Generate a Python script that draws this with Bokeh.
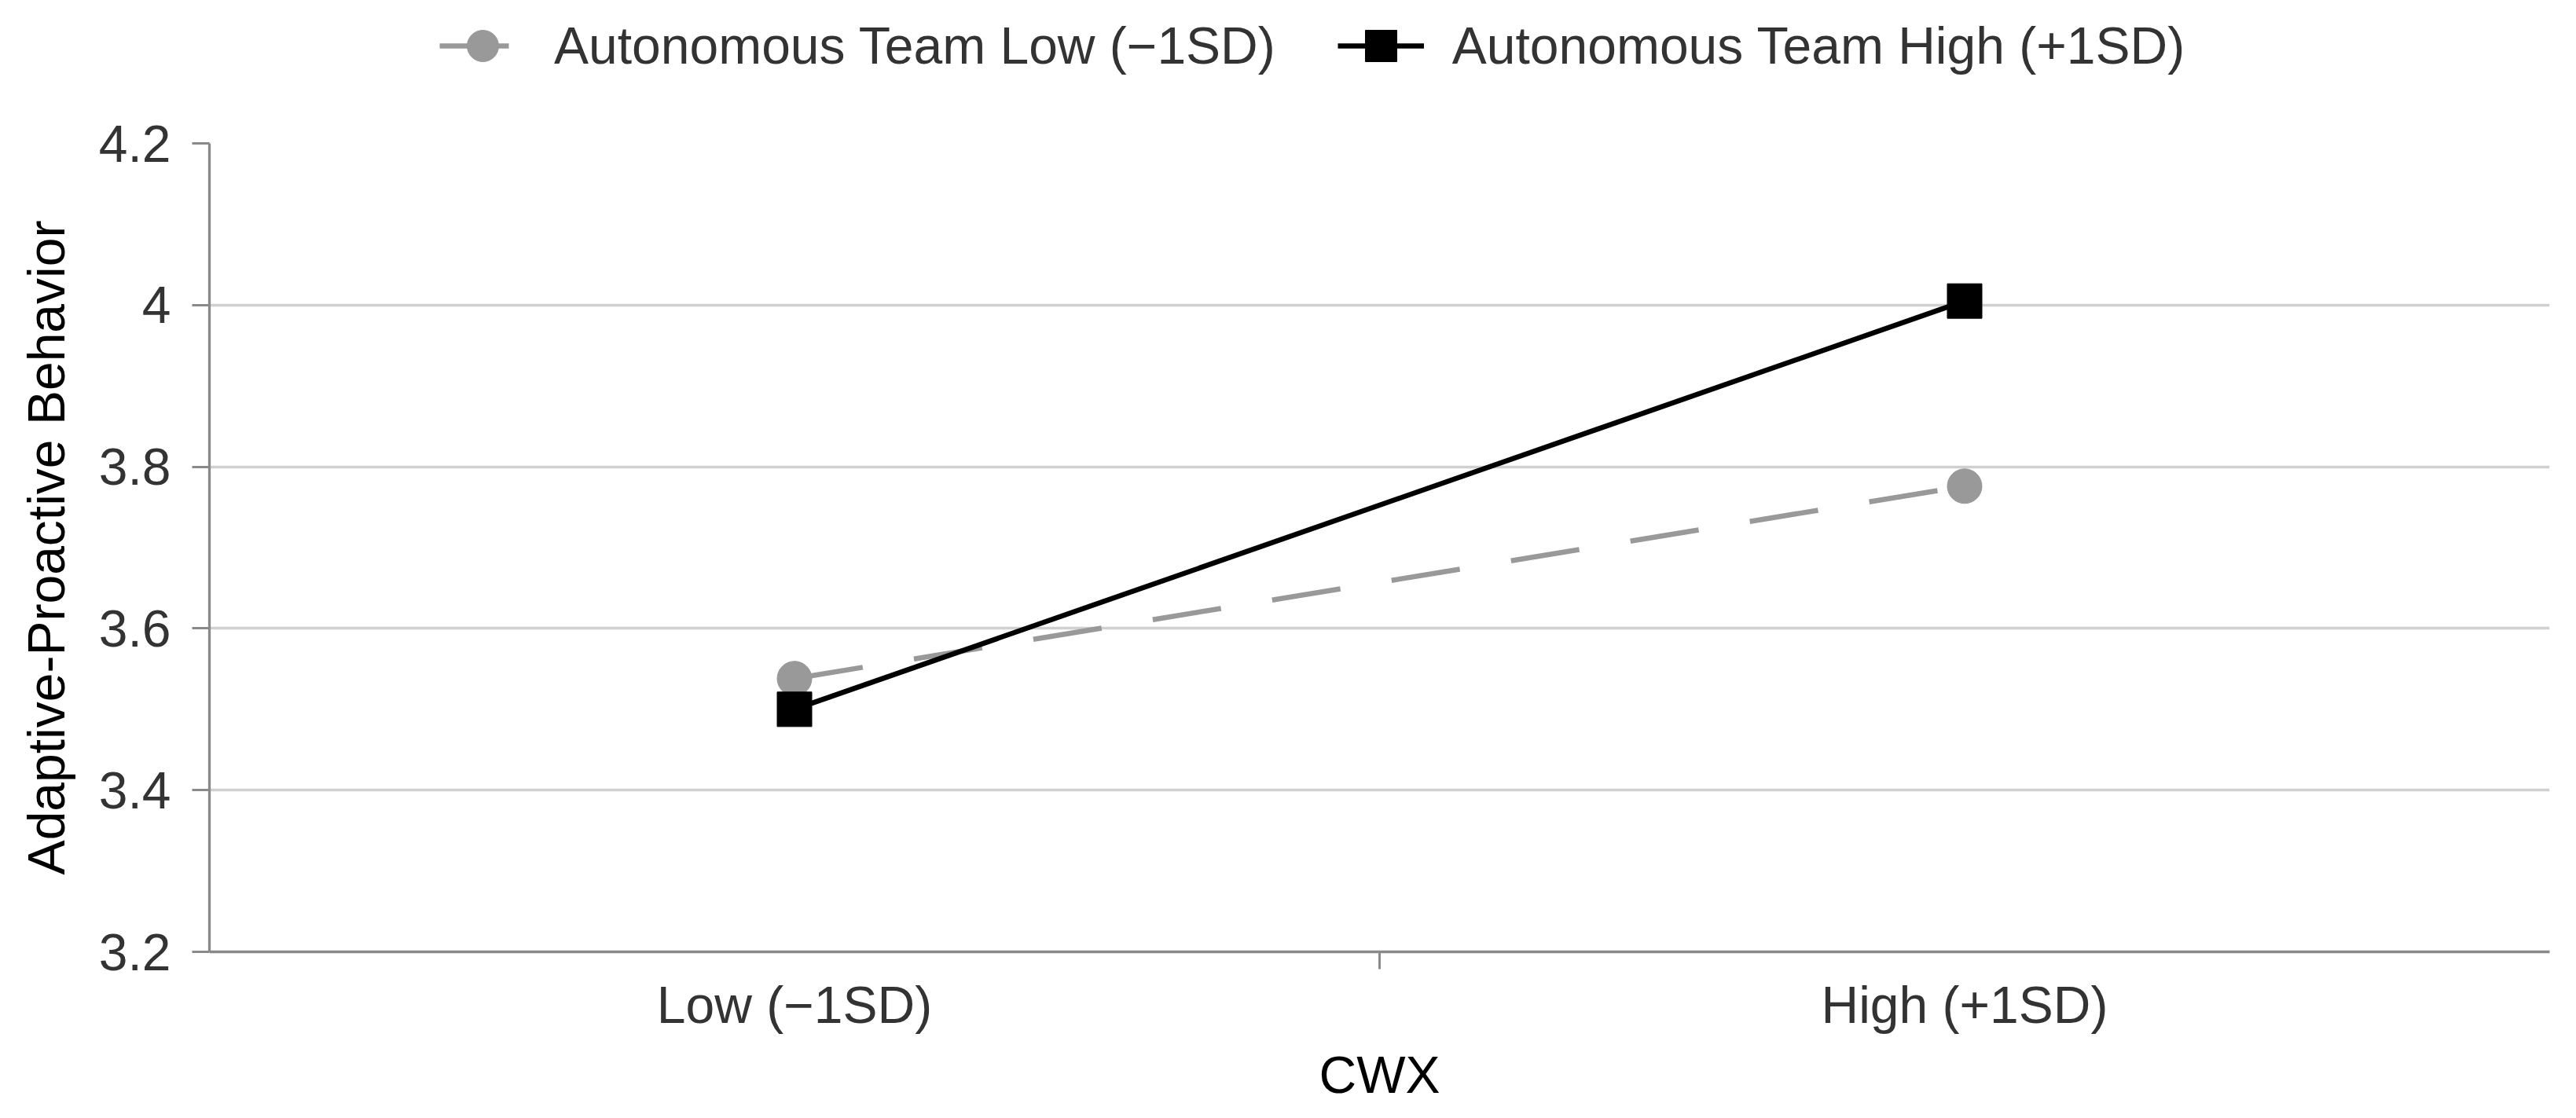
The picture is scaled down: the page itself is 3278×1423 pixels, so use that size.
from bokeh.plotting import figure
from bokeh.layouts import column
from bokeh.models import (FactorRange, Range1d, FixedTicker, CategoricalAxis,
                          Legend, LegendItem, CustomJSTickFormatter)
from bokeh.embed import file_html
from bokeh.resources import INLINE

# ---- data ----
categories = ["Low (\u22121SD)", "High (+1SD)"]
low_team = [3.538, 3.776]      # Autonomous Team Low (−1SD)
high_team = [3.500, 4.005]     # Autonomous Team High (+1SD)
series_names = ["Autonomous Team Low (\u22121SD)", "Autonomous Team High (+1SD)"]
y_ticks = [3.2, 3.4, 3.6, 3.8, 4.0, 4.2]
x_title = "CWX"
y_title = "Adaptive-Proactive Behavior"

FONT = "Liberation Sans"
FS = "66px"
GRAY = "#999999"
AXIS_GRAY = "#898989"
W = 3262
LEG_H = 120

low_style = dict(line=dict(line_color=GRAY, line_width=6.5, line_dash="88 66"),
                 marker=dict(marker="circle", size=44, fill_color=GRAY, line_color=GRAY, line_width=1))
high_style = dict(line=dict(line_color="black", line_width=6.5),
                  marker=dict(marker="square", size=44, fill_color="black", line_color="black",
                              line_width=1, line_join="round"))

# ---------------- main chart ----------------
p = figure(x_range=FactorRange(factors=categories, range_padding=0),
           y_range=Range1d(y_ticks[0], y_ticks[-1]),
           width=W, height=1407 - LEG_H, x_axis_location=None,
           output_backend="svg", toolbar_location=None,
           min_border_left=266, min_border_right=18,
           min_border_top=182 - LEG_H, min_border_bottom=194)
p.outline_line_color = None
p.background_fill_color = "white"

# category boundary ticks (Excel style): a blank factor on each category edge
n_edges = len(categories) + 1
edge_factors = [" " * (i + 1) for i in range(n_edges)]
p.extra_x_ranges = {"edges": FactorRange(factors=edge_factors,
                                         range_padding=-1.0 / n_edges)}
edge_axis = CategoricalAxis(x_range_name="edges",
                            axis_line_color=AXIS_GRAY, axis_line_width=3.3,
                            major_tick_line_color=AXIS_GRAY, major_tick_line_width=3.0,
                            major_tick_out=22, major_tick_in=0,
                            minor_tick_line_color=None,
                            major_label_text_font_size="1px", major_label_standoff=0)
p.add_layout(edge_axis, "below")

cat_axis = CategoricalAxis(axis_line_color=None, major_tick_line_color=None,
                           minor_tick_line_color=None,
                           major_label_text_font=FONT, major_label_text_font_size=FS,
                           major_label_text_color="#333333", major_label_standoff=-2,
                           axis_label=x_title, axis_label_text_font=FONT,
                           axis_label_text_font_size=FS, axis_label_text_font_style="normal",
                           axis_label_text_color="#000000", axis_label_standoff=12)
p.add_layout(cat_axis, "below")

yt = FixedTicker(ticks=y_ticks)
p.yaxis.ticker = yt
p.yaxis.formatter = CustomJSTickFormatter(code="return Number(tick.toFixed(1)).toString()")
p.yaxis.axis_line_color = AXIS_GRAY
p.yaxis.axis_line_width = 3.3
p.yaxis.major_tick_line_color = AXIS_GRAY
p.yaxis.major_tick_line_width = 3.0
p.yaxis.major_tick_out = 22
p.yaxis.major_tick_in = 0
p.yaxis.minor_tick_line_color = None
p.yaxis.major_label_text_font = FONT
p.yaxis.major_label_text_font_size = FS
p.yaxis.major_label_text_color = "#333333"
p.yaxis.major_label_standoff = 27
p.yaxis.axis_label = y_title
p.yaxis.axis_label_text_font = FONT
p.yaxis.axis_label_text_font_size = FS
p.yaxis.axis_label_text_font_style = "normal"
p.yaxis.axis_label_text_color = "#000000"
p.yaxis.axis_label_standoff = 27

p.ygrid.ticker = yt
p.ygrid.grid_line_color = "#d0d0d0"
p.ygrid.grid_line_width = 3.5
p.xgrid.grid_line_color = None

# series
p.line(categories, low_team, **low_style["line"])
p.scatter(categories, low_team, **low_style["marker"])
p.line(categories, high_team, **high_style["line"])
p.scatter(categories, high_team, **high_style["marker"])

# ---------------- legend strip on top ----------------
# same series, drawn in a strip whose value window (0..1) lies outside the data,
# so only their legend entries show
lg = figure(x_range=FactorRange(factors=categories, range_padding=0),
            y_range=Range1d(0, 1), width=W, height=LEG_H,
            x_axis_location=None, y_axis_location=None,
            output_backend="svg", toolbar_location=None, min_border=0)
lg.outline_line_color = None
lg.grid.visible = False
ll1 = lg.line(categories, low_team, **low_style["line"])
ls1 = lg.scatter(categories, low_team, **low_style["marker"])
ll2 = lg.line(categories, high_team, **high_style["line"])
ls2 = lg.scatter(categories, high_team, **high_style["marker"])

legend = Legend(items=[LegendItem(label=series_names[0], renderers=[ll1, ls1]),
                       LegendItem(label=series_names[1], renderers=[ll2, ls2])],
                orientation="horizontal", location=(293, 12),
                glyph_width=110, glyph_height=100, label_standoff=36, spacing=79,
                padding=0, margin=0, border_line_color=None, background_fill_alpha=0,
                label_text_font=FONT, label_text_font_size=FS,
                label_text_color="#333333")
lg.add_layout(legend)

layout = column(lg, p, spacing=0)
open("out.html", "w").write(file_html(layout, INLINE))
